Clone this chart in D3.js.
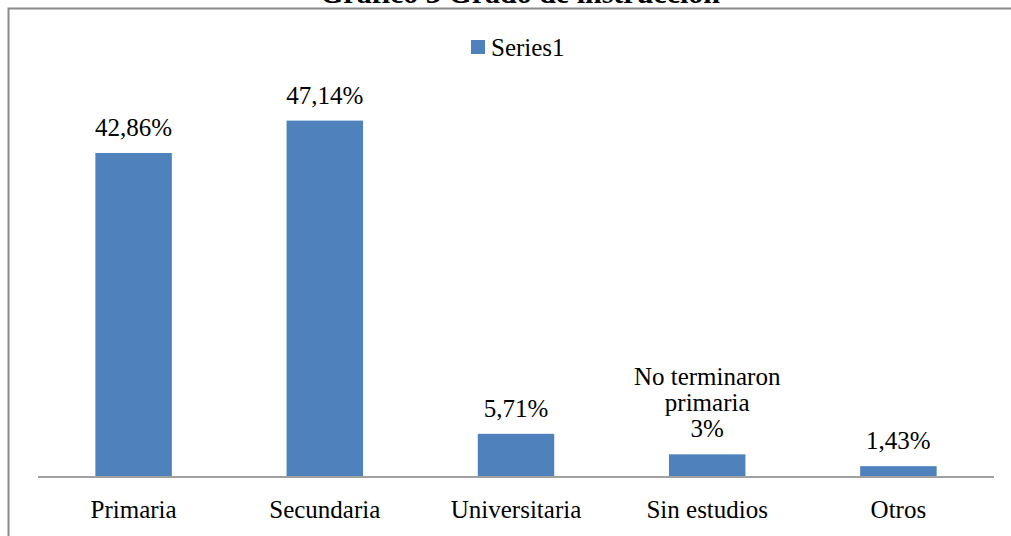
<!DOCTYPE html>
<html>
<head>
<meta charset="utf-8">
<script src="https://cdn.jsdelivr.net/npm/d3@7"></script>
<style>
	body { margin: 0; background: #fff; }
</style>
</head>
<body>
<svg id="chart" width="1011" height="536" font-family="'Liberation Serif', 'Times New Roman', serif"></svg>
<script>
var categories = [ "Primaria", "Secundaria", "Universitaria", "Sin estudios", "Otros" ];
var values = [ 42.86, 47.14, 5.71, 3, 1.43 ];
var valueLabels = [ [ "42,86%" ], [ "47,14%" ], [ "5,71%" ], [ "No terminaron", "primaria", "3%" ], [ "1,43%" ] ];
var seriesName = "Series1";
var title = "Gráfico 3 Grado de instrucción";

var FONT = "'Liberation Serif', 'Times New Roman', serif";
var svg = d3.select("#chart");
var left = 38, right = 994, baseY = 477, topY = 99;

var x = d3.scaleBand().domain(categories).range([ left, right ])//
.paddingInner(0.6).paddingOuter(0.3);
var y = d3.scaleLinear().domain([ 0, 50 ]).range([ baseY, topY ]);

function label(parent, tx, ty, str, size, anchor) {
	return parent.append("text").attr("x", tx).attr("y", ty)//
	.attr("text-anchor", anchor || "middle").style("font-family", FONT)//
	.style("font-size", size + "px").attr("fill", "#000").text(str);
}

// outer frame, right and bottom edges fall outside the picture
svg.append("rect").attr("x", 8.5).attr("y", 8.5).attr("width", 1100).attr("height", 600)//
.attr("fill", "none").attr("stroke", "#8a8a8a").attr("stroke-width", 2);

// title, mostly cut off by the top edge (as in the source)
label(svg, 520, 3, title, 30).style("font-weight", "bold");

// legend
svg.append("rect").attr("x", 471).attr("y", 40).attr("width", 14).attr("height", 14).attr("fill", "#4F81BD");
label(svg, 491, 56, seriesName, 25, "start");

// bars
svg.selectAll(".bar").data(values).enter().append("rect").attr("class", "bar")//
.attr("x", function(d, i) {
	return x(categories[i]);
}).attr("y", function(d) {
	return y(d);
}).attr("width", x.bandwidth()).attr("height", function(d) {
	return baseY - y(d);
}).attr("fill", "#4F81BD");

// category axis
var axis = svg.append("g").attr("transform", "translate(0," + baseY + ")")//
.call(d3.axisBottom(x).tickSize(0).tickPadding(0));
axis.attr("font-family", null);
axis.select(".domain").attr("stroke", "#a0a0a0").attr("stroke-width", 2)//
.attr("d", "M" + left + ",0H" + right);
axis.selectAll(".tick text").attr("dy", null).attr("y", 41)//
.style("font-size", "25px").style("font-family", FONT).attr("fill", "#000");

// data labels
var lineH = 26;
values.forEach(function(d, i) {
	var lines = valueLabels[i];
	var cx = x(categories[i]) + x.bandwidth() / 2;
	var base = y(d) - 17 - (lines.length - 1) * lineH;
	lines.forEach(function(l, j) {
		label(svg, cx, base + j * lineH, l, 25).attr("class", "vlabel");
	});
});
</script>
</body>
</html>
